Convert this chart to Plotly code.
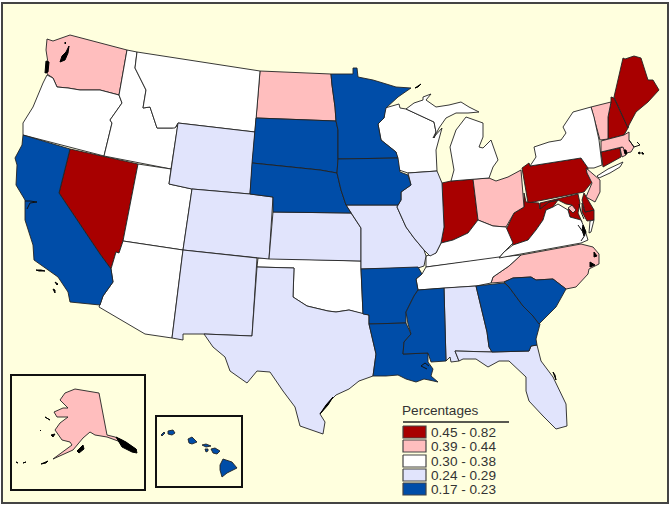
import plotly.graph_objects as go

# ---- classes -------------------------------------------------------------
LEGEND_TITLE = "Percentages"
CLASS_LABELS = ["0.45 - 0.82", "0.39 - 0.44", "0.30 - 0.38", "0.24 - 0.29", "0.17 - 0.23"]
CLASS_COLORS = ["#A80000", "#FFBEBE", "#FFFFFF", "#E1E4FC", "#004DA8"]
CLASS_STATES = [
    ["NV", "IN", "PA", "WV", "MD", "MD2", "DE", "CT", "NH", "ME"],
    ["WA", "ND", "OH", "NJ", "VT", "MA", "RI", "NC", "AK", "DC"],
    ["OR", "ID", "MT", "UT", "AZ", "OK", "WI", "MI1", "MI2", "KY", "TN", "VA", "VA2", "NY", "LI"],
    ["WY", "CO", "NM", "TX", "KS", "MO", "IL", "AL", "FL"],
    ["CA", "SD", "NE", "MN", "IA", "AR", "LA", "MS", "GA", "SC",
     "HI1", "HI2", "HI3", "HI4", "HI5", "HI6", "HI7"],
]

# ---- state outlines (map units) ------------------------------------------
OUTLINES = {
 "WA": [(47,39),(53,41),(70,35),(127,50),(119,95),(100,90),(80,90),(68,88),(57,87),(53,78),(47,74),(48,63),(46,50)],
 "OR": [(47,75),(53,78),(57,87),(68,88),(80,90),(100,90),(119,95),(122,103),(110,120),(112,123),(104,156),(23,135),(23,123),(33,107),(43,83)],
 "ID": [(127,50),(137,52),(135,68),(146,90),(143,108),(150,107),(157,128),(172,128),(176,127),(178,124),(171,169),(104,156),(112,123),(110,120),(122,103),(119,95)],
 "MT": [(137,52),(260,71),(255,132),(178,123),(175,128),(157,128),(150,107),(143,108),(146,90),(135,68)],
 "ND": [(260,71),(331,74),(332,85),(335,107),(336,121),(256,118)],
 "SD": [(256,118),(336,121),(338,130),(338,159),(337,173),(320,170),(252,163)],
 "NE": [(252,163),(320,170),(337,173),(341,190),(346,205),(351,213),(273,212),(273,197),(250,194)],
 "WY": [(178,123),(255,132),(250,194),(192,189),(169,184)],
 "UT": [(171,169),(138,164),(123,241),(183,250),(192,189),(169,184)],
 "NV": [(70,149),(138,164),(123,241),(119,253),(116,252),(111,269),(100,254),(59,193)],
 "CA": [(23,135),(70,149),(59,193),(100,254),(111,269),(113,282),(103,296),(100,305),(70,302),(68,292),(58,277),(34,260),(33,245),(25,220),(25,200),(16,185),(17,165),(15,158),(22,145)],
 "AZ": [(123,241),(183,250),(172,338),(145,334),(99,307),(103,296),(113,282),(111,269),(116,252),(119,253)],
 "NM": [(183,250),(257,258),(252,336),(204,334),(183,334),(183,340),(172,338)],
 "CO": [(192,189),(250,194),(273,197),(269,259),(183,250)],
 "KS": [(273,212),(351,213),(357,222),(361,228),(361,261),(269,259)],
 "OK": [(258,258),(361,261),(361,269),(363,314),(349,310),(336,312),(328,311),(307,306),(293,297),(294,268),(257,267)],
 "TX": [(257,267),(294,268),(293,297),(307,306),(328,311),(336,312),(349,310),(363,314),(369,315),(369,324),(376,354),(373,376),(359,381),(349,389),(336,395),(330,401),(320,414),(325,422),(323,434),(300,426),(295,407),(283,391),(270,372),(257,371),(247,383),(230,371),(225,357),(213,347),(204,334),(252,336)],
 "MN": [(331,74),(353,74),(353,68),(357,68),(358,77),(373,80),(383,83),(396,87),(411,88),(398,97),(386,108),(384,118),(378,124),(381,140),(396,152),(398,158),(338,159),(338,130),(336,121),(335,107),(332,85)],
 "IA": [(338,159),(398,158),(400,172),(408,175),(411,185),(401,192),(401,200),(398,205),(346,205),(341,190),(337,173)],
 "MO": [(346,205),(398,205),(397,207),(406,227),(414,238),(424,250),(426,256),(424,266),(418,268),(361,269),(361,228),(351,213)],
 "IL": [(408,173),(437,171),(442,183),(444,227),(441,243),(436,253),(430,256),(424,250),(414,238),(406,227),(397,207),(398,205),(401,200),(401,192),(411,185)],
 "WI": [(385,108),(399,104),(400,108),(406,109),(434,122),(436,132),(433,138),(442,128),(436,150),(437,171),(408,173),(399,170),(396,152),(381,140),(378,124),(384,118)],
 "MI1": [(406,109),(414,103),(423,100),(423,97),(431,94),(426,100),(436,107),(449,105),(461,102),(469,107),(479,112),(468,113),(456,113),(446,118),(439,128),(434,138),(436,132),(434,122)],
 "MI2": [(466,117),(483,123),(483,137),(479,147),(483,148),(491,140),(498,160),(493,167),(489,178),(451,181),(454,170),(450,147),(456,130),(464,120)],
 "IN": [(442,183),(451,181),(473,179),(478,220),(468,233),(453,240),(441,243),(444,227)],
 "OH": [(473,179),(489,178),(496,181),(508,177),(521,170),(524,207),(514,213),(506,227),(493,226),(483,222),(478,220)],
 "KY": [(441,243),(453,240),(468,233),(478,220),(483,222),(493,226),(506,227),(513,243),(504,252),(499,258),(426,267),(426,256),(436,253)],
 "TN": [(426,267),(469,261),(499,257),(521,255),(509,266),(493,277),(491,283),(476,286),(444,288),(418,290),(416,279),(422,274)],
 "WV": [(524,193),(526,202),(539,203),(540,209),(549,202),(558,200),(553,207),(546,210),(543,220),(536,230),(528,240),(513,245),(506,230),(514,213),(524,207)],
 "PA": [(522,168),(529,163),(530,166),(581,158),(588,168),(587,173),(592,182),(584,192),(528,203)],
 "NY": [(530,166),(536,157),(534,147),(549,142),(561,140),(566,133),(563,127),(573,112),(591,107),(594,117),(599,140),(602,165),(594,168),(588,168),(581,158)],
 "LI": [(597,176),(608,169),(623,162),(620,167),(610,173),(599,178)],
 "VT": [(591,107),(611,102),(608,117),(608,139),(600,140),(594,117)],
 "NH": [(611,97),(614,98),(628,128),(624,135),(608,139),(608,117),(611,102)],
 "ME": [(614,97),(623,58),(625,59),(634,56),(641,58),(648,80),(653,80),(659,90),(648,102),(636,112),(629,125),(628,128)],
 "MA": [(601,141),(624,135),(629,132),(629,140),(634,147),(631,152),(626,153),(622,147),(601,152)],
 "CT": [(601,152),(620,148),(621,157),(603,167)],
 "RI": [(620,148),(623,147),(626,155),(622,157)],
 "NJ": [(586,168),(600,180),(600,192),(595,202),(586,197),(592,183),(587,173)],
 "MD": [(540,203),(578,194),(580,203),(578,213),(582,222),(570,217),(568,210),(572,205),(566,204),(558,200),(549,202),(540,209)],
 "MD2": [(582,203),(585,212),(594,210),(594,220),(587,221),(582,212)],
 "DE": [(584,193),(590,203),(594,210),(585,212),(582,200)],
 "DC": [(568,208),(572,205),(576,210),(573,213)],
 "VA": [(513,245),(528,240),(536,230),(543,220),(546,210),(553,207),(558,204),(568,210),(570,217),(581,220),(584,227),(588,240),(581,243),(499,258),(504,252)],
 "VA2": [(594,220),(591,232),(589,233),(590,221)],
 "NC": [(521,255),(581,244),(593,247),(599,254),(599,264),(589,269),(588,274),(576,287),(566,289),(553,279),(536,280),(531,277),(513,278),(504,282),(491,283),(493,277),(509,266)],
 "SC": [(504,282),(513,278),(531,277),(536,280),(553,279),(566,289),(556,307),(544,319),(539,324),(533,316),(523,306),(509,287)],
 "GA": [(476,286),(504,283),(509,287),(523,306),(533,316),(540,324),(536,339),(537,345),(531,346),(529,351),(492,352),(489,347),(487,332)],
 "AL": [(444,288),(476,286),(487,332),(489,347),(492,352),(455,351),(459,361),(451,362),(450,357),(446,361)],
 "FL": [(455,351),(492,352),(529,351),(531,346),(537,345),(541,361),(553,377),(566,404),(567,426),(556,429),(543,416),(529,401),(526,391),(526,377),(509,361),(499,361),(488,367),(476,359),(463,359),(459,361)],
 "MS": [(418,290),(444,288),(446,361),(431,362),(428,353),(403,354),(404,342),(411,334),(408,324),(406,312),(414,296)],
 "LA": [(369,324),(406,323),(411,334),(404,342),(403,354),(428,353),(428,362),(433,369),(431,376),(438,382),(429,380),(424,379),(416,382),(406,379),(398,375),(386,376),(373,376),(376,354)],
 "AR": [(361,269),(418,267),(422,274),(416,279),(418,290),(414,296),(406,312),(406,323),(369,324),(369,315),(363,314)],
 "AK": [(65,393),(75,389),(99,393),(107,435),(115,437),(122,440),(137,450),(133,452),(118,441),(107,437),(95,435),(90,432),(83,438),(75,448),(73,450),(53,459),(72,445),(70,442),(62,440),(55,430),(60,423),(68,417),(57,417),(54,412),(63,408),(68,408),(60,400)],
 "HI1": [(168,431),(173,430),(175,433),(172,435),(168,434)],
 "HI2": [(161,435),(164,432),(165,433),(162,436)],
 "HI3": [(188,439),(192,437),(197,442),(192,444),(189,443)],
 "HI4": [(202,445),(206,444),(211,446),(206,447)],
 "HI5": [(205,449),(208,449),(208,451),(206,452)],
 "HI6": [(211,449),(215,448),(220,451),(217,454),(213,453)],
 "HI7": [(220,465),(223,459),(232,462),(237,468),(227,473),(222,477),(220,470)],
}

# small islands and inlets, solid dark
DARK_BITS = [
 [(60,62),(62,56),(66,52),(69,46),(68,53),(65,60)],
 [(65,42),(66,43),(65,44)],
 [(46,61),(49,62),(48,72),(45,73)],
 [(36,270),(41,270),(45,271),(39,271)],
 [(55,282),(58,284),(57,285)],
 [(53,289),(55,290),(55,293)],
 [(45,417),(50,420),(47,419)],
 [(40,430),(41,431),(40,431)],
 [(51,435),(55,434),(53,437)],
 [(77,451),(83,445),(84,449),(79,453)],
 [(41,464),(48,461),(46,463)],
 [(16,462),(18,463),(17,463)],
 [(23,463),(26,462),(25,463)],
 [(116,437),(126,442),(136,449),(137,453),(132,452),(122,447)],
 [(415,88),(421,84),(418,87)],
 [(638,153),(640,152),(640,154)],
 [(642,152),(644,154),(642,154)],
 [(624,150),(626,150),(627,154),(625,154)],
 [(553,372),(556,380),(555,375)],
 [(320,414),(326,405),(333,397),(328,405)],
 [(583,225),(586,232),(584,236),(582,230)],
 [(590,262),(595,265),(590,267)],
 [(594,252),(597,256),(594,257)],
]

# thin coast lines and hooks
COAST_LINES = [
 [(25,201),(30,201),(37,202),(30,203),(27,209)],
 [(629,140),(634,147),(640,145),(637,142)],
 [(579,204),(581,212),(584,219)],
 [(578,225),(585,235),(581,241)],
 [(429,366),(425,363),(421,366),(427,369)],
]

# frames: (left, top, right, bottom)
OUTER = (2, 3, 668, 503)
AK_BOX = (11, 375, 145, 490)
HI_BOX = (156, 416, 242, 487)
LEGEND_RULE = (403, 422, 509, 422)
LEGEND_TOPS = [426, 440, 455, 469, 483]

BG = "#FFFFDE"
fig = go.Figure()


def poly(pts, fill, color="#222222", width=0.9):
    xs = [p[0] for p in pts] + [pts[0][0]]
    ys = [p[1] for p in pts] + [pts[0][1]]
    fig.add_trace(go.Scatter(x=xs, y=ys, mode="lines", fill="toself", fillcolor=fill,
                             line=dict(color=color, width=width), hoverinfo="skip",
                             showlegend=False))


def stroke(pts, color="#111111", width=1.0):
    fig.add_trace(go.Scatter(x=[p[0] for p in pts], y=[p[1] for p in pts], mode="lines",
                             line=dict(color=color, width=width), hoverinfo="skip",
                             showlegend=False))


for color, states in zip(CLASS_COLORS, CLASS_STATES):
    for st in states:
        poly(OUTLINES[st], color)

for d in DARK_BITS:
    poly(d, "#000000", color="#000000", width=1.0)
for d in COAST_LINES:
    stroke(d)

# legend
for top, color, label in zip(LEGEND_TOPS, CLASS_COLORS, CLASS_LABELS):
    poly([(403, top), (426, top), (426, top + 12), (403, top + 12)], color, color="#444444", width=1.2)
    fig.add_annotation(x=429, y=top + 6, text=label, showarrow=False, xanchor="left", yanchor="middle",
                       font=dict(family="Liberation Sans", size=13.6, color="#333333"))
fig.add_annotation(x=400, y=410, text=LEGEND_TITLE, showarrow=False, xanchor="left", yanchor="middle",
                   font=dict(family="Liberation Sans", size=13.6, color="#333333"))

shapes = [
    dict(type="rect", x0=OUTER[0], y0=OUTER[1], x1=OUTER[2], y1=OUTER[3], fillcolor=BG,
         line=dict(color="#444444", width=2), layer="below"),
    dict(type="rect", x0=AK_BOX[0], y0=AK_BOX[1], x1=AK_BOX[2], y1=AK_BOX[3],
         line=dict(color="#111111", width=2), layer="below"),
    dict(type="rect", x0=HI_BOX[0], y0=HI_BOX[1], x1=HI_BOX[2], y1=HI_BOX[3],
         line=dict(color="#111111", width=2), layer="below"),
    dict(type="line", x0=LEGEND_RULE[0], y0=LEGEND_RULE[1], x1=LEGEND_RULE[2], y1=LEGEND_RULE[3],
         line=dict(color="#222222", width=1.4)),
]

fig.update_layout(
    width=672, height=508, margin=dict(l=0, r=0, t=0, b=0),
    paper_bgcolor="white", plot_bgcolor="white", shapes=shapes, showlegend=False,
    xaxis=dict(range=[0, 672], visible=False, fixedrange=True),
    yaxis=dict(range=[508, 0], visible=False, fixedrange=True),
)
fig.write_html("out.html", config={"displayModeBar": False},
               post_script="document.body.style.margin='0';document.body.style.overflow='hidden';")
